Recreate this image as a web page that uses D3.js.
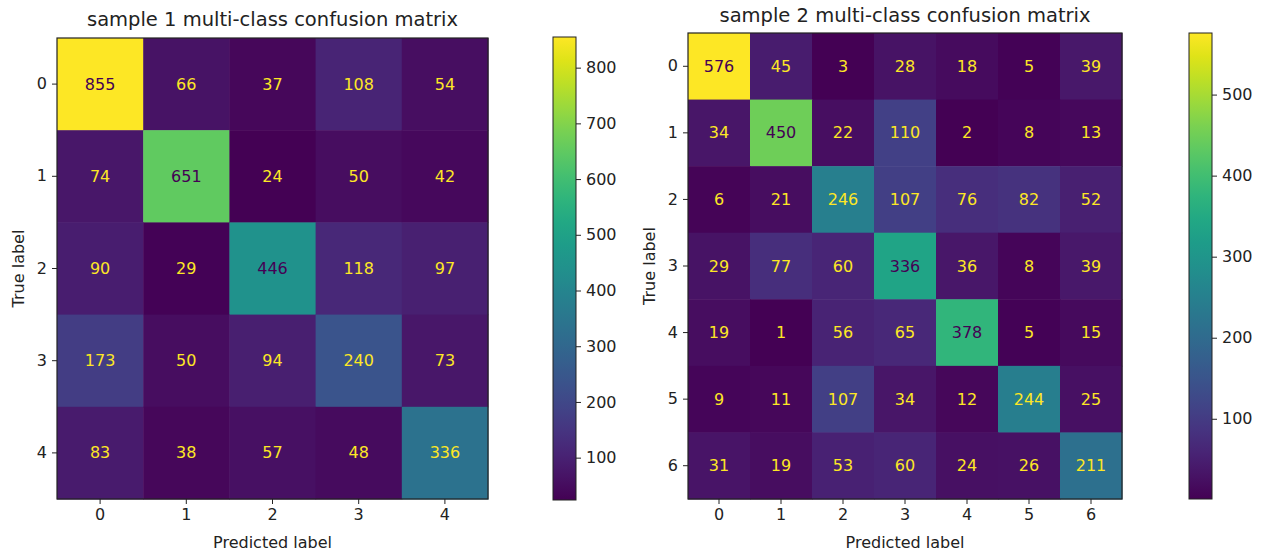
<!DOCTYPE html>
<html>
<head>
<meta charset="utf-8">
<script src="https://cdn.jsdelivr.net/npm/d3@7"></script>
<style>
  body { margin: 0; background: #fff; }
  text { font-family: "DejaVu Sans", sans-serif; }
</style>
</head>
<body>
<div id="canvas"></div>
<script>
// sample 1: 5 classes
var classes1 = ["0", "1", "2", "3", "4"];
var matrix1 = [
  [855, 66, 37, 108, 54],
  [74, 651, 24, 50, 42],
  [90, 29, 446, 118, 97],
  [173, 50, 94, 240, 73],
  [83, 38, 57, 48, 336]
];

// sample 2: 7 classes
var classes2 = ["0", "1", "2", "3", "4", "5", "6"];
var matrix2 = [
  [576, 45, 3, 28, 18, 5, 39],
  [34, 450, 22, 110, 2, 8, 13],
  [6, 21, 246, 107, 76, 82, 52],
  [29, 77, 60, 336, 36, 8, 39],
  [19, 1, 56, 65, 378, 5, 15],
  [9, 11, 107, 34, 12, 244, 25],
  [31, 19, 53, 60, 24, 26, 211]
];

var titles = ["sample 1 multi-class confusion matrix", "sample 2 multi-class confusion matrix"];

var W = 1269, H = 553;
var FS = "16px";
var svg = d3.select("#canvas").append("svg")
  .attr("width", W)
  .attr("height", H);

function drawMatrix(opt) {
  var classes = opt.classes, m = opt.matrix;
  var cells = [];
  m.forEach(function (row, i) {
    row.forEach(function (v, j) {
      cells.push({ r: classes[i], c: classes[j], v: v });
    });
  });
  var vals = cells.map(function (d) { return d.v; });
  var vmin = d3.min(vals), vmax = d3.max(vals);
  var thresh = (vmin + vmax) / 2;

  var x = d3.scaleBand().domain(classes).range([opt.x0, opt.x1]);
  var y = d3.scaleBand().domain(classes).range([opt.y0, opt.y1]);
  var color = d3.scaleSequential(d3.interpolateViridis).domain([vmin, vmax]);

  var g = svg.append("g");

  g.selectAll("rect.cell")
    .data(cells).enter()
    .append("rect")
    .attr("class", "cell")
    .attr("x", function (d) { return x(d.c); })
    .attr("y", function (d) { return y(d.r); })
    .attr("width", x.bandwidth() + 0.5)
    .attr("height", y.bandwidth() + 0.5)
    .attr("fill", function (d) { return color(d.v); });

  g.selectAll("text.val")
    .data(cells).enter()
    .append("text")
    .attr("class", "val")
    .attr("x", function (d) { return x(d.c) + x.bandwidth() / 2; })
    .attr("y", function (d) { return y(d.r) + y.bandwidth() / 2; })
    .attr("text-anchor", "middle")
    .attr("dominant-baseline", "central")
    .attr("font-size", FS)
    .attr("fill", function (d) { return d.v < thresh ? d3.interpolateViridis(1) : d3.interpolateViridis(0); })
    .text(function (d) { return d.v; });

  g.append("rect")
    .attr("x", opt.x0).attr("y", opt.y0)
    .attr("width", opt.x1 - opt.x0).attr("height", opt.y1 - opt.y0)
    .attr("fill", "none").attr("stroke", "#222").attr("stroke-width", 1.2);

  var ax = g.append("g")
    .attr("transform", "translate(0," + opt.y1 + ")")
    .call(d3.axisBottom(x).tickSize(5).tickPadding(5));
  var ay = g.append("g")
    .attr("transform", "translate(" + opt.x0 + ",0)")
    .call(d3.axisLeft(y).tickSize(5).tickPadding(5));
  [ax, ay].forEach(function (a) {
    a.select(".domain").remove();
    a.selectAll("line").attr("stroke", "#222");
    a.selectAll("text").attr("font-size", FS).attr("fill", "#222")
      .attr("font-family", "DejaVu Sans, sans-serif");
  });

  g.append("text")
    .attr("x", (opt.x0 + opt.x1) / 2)
    .attr("y", opt.titleY)
    .attr("text-anchor", "middle")
    .attr("font-size", "19.5px")
    .attr("fill", "#222")
    .text(opt.title);

  g.append("text")
    .attr("x", (opt.x0 + opt.x1) / 2)
    .attr("y", 548)
    .attr("text-anchor", "middle")
    .attr("font-size", FS)
    .attr("fill", "#222")
    .text("Predicted label");

  g.append("text")
    .attr("transform", "translate(" + opt.ylabX + "," + (opt.y0 + opt.y1) / 2 + ") rotate(-90)")
    .attr("text-anchor", "middle")
    .attr("font-size", FS)
    .attr("fill", "#222")
    .text("True label");

  // colorbar
  var cb = opt.cb;
  var cy = d3.scaleLinear().domain([vmin, vmax]).range([cb.y1, cb.y0]);
  var gradId = "grad" + opt.id;
  var grad = svg.append("defs").append("linearGradient")
    .attr("id", gradId)
    .attr("x1", 0).attr("y1", 1).attr("x2", 0).attr("y2", 0);
  d3.range(0, 1.0001, 0.05).forEach(function (t) {
    grad.append("stop")
      .attr("offset", t)
      .attr("stop-color", d3.interpolateViridis(t));
  });
  g.append("rect")
    .attr("x", cb.x0).attr("y", cb.y0)
    .attr("width", cb.x1 - cb.x0).attr("height", cb.y1 - cb.y0)
    .attr("fill", "url(#" + gradId + ")")
    .attr("stroke", "#222").attr("stroke-width", 1);
  var ac = g.append("g")
    .attr("transform", "translate(" + cb.x1 + ",0)")
    .call(d3.axisRight(cy).tickValues(cy.ticks(8).filter(function (t) { return t > 0; })).tickSize(5).tickPadding(5));
  ac.select(".domain").remove();
  ac.selectAll("line").attr("stroke", "#222");
  ac.selectAll("text").attr("font-size", FS).attr("fill", "#222")
    .attr("font-family", "DejaVu Sans, sans-serif");
}

drawMatrix({
  id: 1, classes: classes1, matrix: matrix1, title: titles[0],
  x0: 57, x1: 488, y0: 38, y1: 499, titleY: 26, ylabX: 24,
  cb: { x0: 553, x1: 576, y0: 37, y1: 500 }
});

drawMatrix({
  id: 2, classes: classes2, matrix: matrix2, title: titles[1],
  x0: 688, x1: 1122, y0: 33, y1: 499, titleY: 22, ylabX: 655,
  cb: { x0: 1189, x1: 1212, y0: 33, y1: 499 }
});
</script>
</body>
</html>
